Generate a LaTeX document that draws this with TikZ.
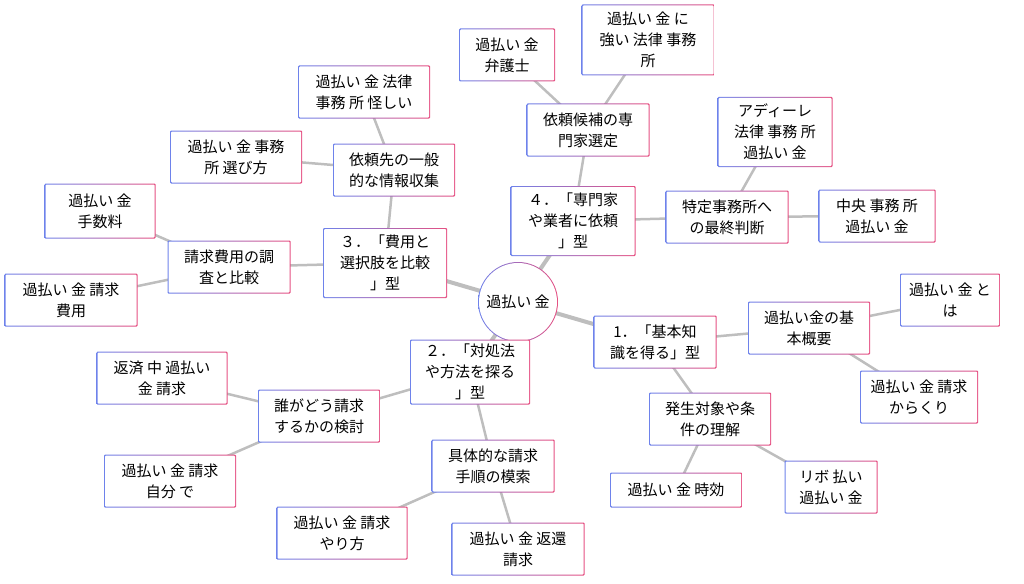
\documentclass[tikz,border=0pt]{standalone}
\usepackage{fontspec}
\setmainfont{Noto Sans CJK JP}
\usetikzlibrary{backgrounds}
\definecolor{bl}{RGB}{110,130,235}
\definecolor{pk}{RGB}{230,80,130}
\definecolor{ln}{RGB}{190,190,190}
\tikzset{
 box/.style={rectangle,rounded corners=1pt,align=center,inner sep=2pt,
  font=\fontsize{15pt}{21pt}\selectfont,
  path picture={\shade[left color=bl,right color=pk] (path picture bounding box.south west) rectangle (path picture bounding box.north east);
   \fill[white] ([shift={(1pt,1pt)}]path picture bounding box.south west) rectangle ([shift={(-1pt,-1pt)}]path picture bounding box.north east);}},
 two/.style={minimum height=53pt},
 three/.style={minimum height=70pt},
 one/.style={minimum height=35pt},
 hub/.style={circle,minimum size=80pt,inner sep=0pt,font=\fontsize{15pt}{21pt}\selectfont,
  path picture={\shade[left color=bl,right color=pk] (path picture bounding box.south west) rectangle (path picture bounding box.north east);
   \fill[white] (path picture bounding box.center) circle (39pt);}},
 e1/.style={draw=ln,line width=4pt},
 e2/.style={draw=ln,line width=2.5pt}
}
\begin{document}
\begin{tikzpicture}[x=1pt,y=-1pt]
\useasboundingbox (0,0) rectangle (1024,583);
\node[hub] (c) at (518,302) {過払い 金};
\node[box,two,minimum width=123pt] (n1) at (655,342) {1．「基本知\\識を得る」型};
\node[box,two,minimum width=122pt] (n1a) at (809,328) {過払い金の基\\本概要};
\node[box,two,minimum width=100pt] (n1a1) at (950,300) {過払い 金 と\\は};
\node[box,two,minimum width=118pt] (n1a2) at (919,397) {過払い 金 請求\\からくり};
\node[box,two,minimum width=122pt] (n1b) at (710,419) {発生対象や条\\件の理解};
\node[box,one,minimum width=132pt] (n1b1) at (676,490) {過払い 金 時効};
\node[box,two,minimum width=93pt] (n1b2) at (831,487) {リボ 払い\\過払い 金};
\node[box,three,minimum width=120pt,minimum height=65pt] (n2) at (470,372) {２．「対処法\\や方法を探る\\」型};
\node[box,two,minimum width=122pt] (n2a) at (319,416) {誰がどう請求\\するかの検討};
\node[box,two,minimum width=131pt] (n2a1) at (162,378) {返済 中 過払い\\金 請求};
\node[box,two,minimum width=132pt] (n2a2) at (170,481) {過払い 金 請求\\自分 で};
\node[box,two,minimum width=123pt] (n2b) at (493,466) {具体的な請求\\手順の模索};
\node[box,two,minimum width=131pt] (n2b1) at (342,533) {過払い 金 請求\\やり方};
\node[box,two,minimum width=133pt] (n2b2) at (518,549) {過払い 金 返還\\請求};
\node[box,three,minimum width=124pt] (n3) at (385,263) {３．「費用と\\選択肢を比較\\」型};
\node[box,two,minimum width=123pt] (n3a) at (229,267) {請求費用の調\\査と比較};
\node[box,two,minimum width=111pt,minimum height=55pt] (n3a1) at (100,211) {過払い 金\\手数料};
\node[box,two,minimum width=133pt] (n3a2) at (71,300) {過払い 金 請求\\費用};
\node[box,two,minimum width=122pt] (n3b) at (394,170) {依頼先の一般\\的な情報収集};
\node[box,two,minimum width=132pt] (n3b1) at (236,157) {過払い 金 事務\\所 選び方};
\node[box,two,minimum width=132pt] (n3b2) at (364,92) {過払い 金 法律\\事務 所 怪しい};
\node[box,three,minimum width=125pt] (n4) at (573,221) {４．「専門家\\や業者に依頼\\」型};
\node[box,two,minimum width=123pt] (n4a) at (588,130) {依頼候補の専\\門家選定};
\node[box,two,minimum width=96pt] (n4a1) at (507,55) {過払い 金\\弁護士};
\node[box,three,minimum width=133pt,minimum height=71pt] (n4a2) at (648,40) {過払い 金 に\\強い 法律 事務\\所};
\node[box,two,minimum width=123pt] (n4b) at (727,217) {特定事務所へ\\の最終判断};
\node[box,three,minimum width=115pt] (n4b1) at (775,132) {アディーレ\\法律 事務 所\\過払い 金};
\node[box,two,minimum width=117pt] (n4b2) at (877,216) {中央 事務 所\\過払い 金};
\begin{pgfonlayer}{background}
\draw[e1] (c.center) -- (n1.center);
\draw[e1] (c.center) -- (n2.center);
\draw[e1] (c.center) -- (n3.center);
\draw[e1] (c.center) -- (n4.center);
\draw[e2] (n1.center) -- (n1a.center);
\draw[e2] (n1a.center) -- (n1a1.center);
\draw[e2] (n1a.center) -- (n1a2.center);
\draw[e2] (n1.center) -- (n1b.center);
\draw[e2] (n1b.center) -- (n1b1.center);
\draw[e2] (n1b.center) -- (n1b2.center);
\draw[e2] (n2.center) -- (n2a.center);
\draw[e2] (n2a.center) -- (n2a1.center);
\draw[e2] (n2a.center) -- (n2a2.center);
\draw[e2] (n2.center) -- (n2b.center);
\draw[e2] (n2b.center) -- (n2b1.center);
\draw[e2] (n2b.center) -- (n2b2.center);
\draw[e2] (n3.center) -- (n3a.center);
\draw[e2] (n3a.center) -- (n3a1.center);
\draw[e2] (n3a.center) -- (n3a2.center);
\draw[e2] (n3.center) -- (n3b.center);
\draw[e2] (n3b.center) -- (n3b1.center);
\draw[e2] (n3b.center) -- (n3b2.center);
\draw[e2] (n4.center) -- (n4a.center);
\draw[e2] (n4a.center) -- (n4a1.center);
\draw[e2] (n4a.center) -- (n4a2.center);
\draw[e2] (n4.center) -- (n4b.center);
\draw[e2] (n4b.center) -- (n4b1.center);
\draw[e2] (n4b.center) -- (n4b2.center);
\end{pgfonlayer}
\end{tikzpicture}
\end{document}
